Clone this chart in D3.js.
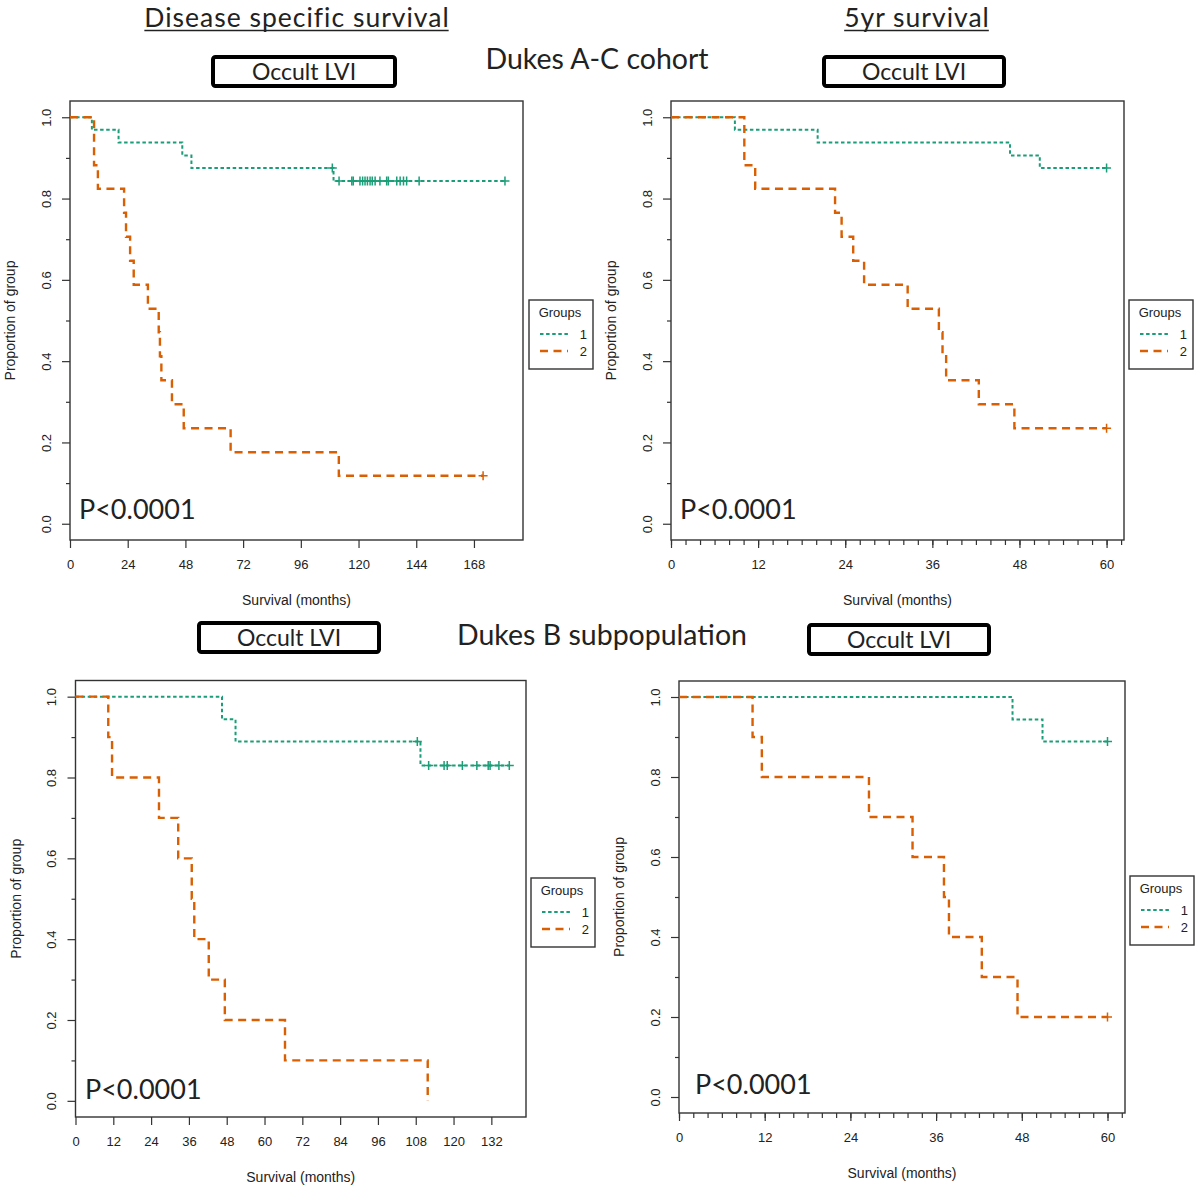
<!DOCTYPE html>
<html>
<head>
<meta charset="utf-8">
<script src="https://cdn.jsdelivr.net/npm/d3@7"></script>
<style>
  body { margin: 0; background: #fff; }
  svg text { fill: #222; }
</style>
</head>
<body>
<script>
// KM step data: event times (months) and survival after each event
var groups = ['1', '2'];
var groupColors = ['#1b9e77', '#d95f02'];

// Dukes A-C cohort, disease specific survival
var dssAC_g1_time = [9.1, 20.2, 46.7, 50.5, 109.6];
var dssAC_g1_surv = [0.969, 0.938, 0.906, 0.875, 0.843];
var dssAC_g1_cens = [109.1, 111.9, 117.2, 117.8, 120.6, 121.7, 122.7, 123.7, 124.8, 125.7,
                     126.9, 128.9, 131.7, 132.4, 135.9, 137.3, 138.7, 140.0, 145.2, 180.9];
var dssAC_g2_time = [10.0, 11.6, 22.5, 23.3, 25.0, 26.5, 32.4, 36.9, 37.4, 38.0, 42.4, 47.3, 66.8, 111.8];
var dssAC_g2_surv = [0.882, 0.824, 0.765, 0.706, 0.647, 0.588, 0.529, 0.471, 0.412, 0.353, 0.294, 0.235, 0.176, 0.118];
var dssAC_g2_cens = [171.8];

// Dukes A-C cohort, 5yr survival
var yr5AC_g1_time = [8.8, 20.2, 46.7, 50.8];
var yr5AC_g1_surv = [0.969, 0.938, 0.906, 0.875];
var yr5AC_g1_cens = [60];
var yr5AC_g2_time = [10.1, 11.6, 22.6, 23.5, 25.1, 26.6, 32.6, 36.9, 37.4, 37.9, 42.4, 47.3];
var yr5AC_g2_surv = [0.882, 0.824, 0.765, 0.706, 0.647, 0.588, 0.529, 0.471, 0.412, 0.353, 0.294, 0.235];
var yr5AC_g2_cens = [60];

// Dukes B subpopulation, disease specific survival
var dssB_g1_time = [46.5, 50.8, 109.5];
var dssB_g1_surv = [0.944, 0.889, 0.830];
var dssB_g1_cens = [108.5, 112.1, 117.0, 118.0, 122.8, 127.4, 131.0, 131.6, 134.4, 137.7];
var dssB_g2_time = [10.4, 11.6, 26.5, 32.6, 36.9, 37.7, 42.3, 47.4, 66.5, 111.8];
var dssB_g2_surv = [0.9, 0.8, 0.7, 0.6, 0.5, 0.4, 0.3, 0.2, 0.1, 0.0];
var dssB_g2_cens = [];

// Dukes B subpopulation, 5yr survival
var yr5B_g1_time = [46.7, 50.9];
var yr5B_g1_surv = [0.944, 0.889];
var yr5B_g1_cens = [60];
var yr5B_g2_time = [10.3, 11.6, 26.6, 32.7, 37.1, 37.8, 42.4, 47.4];
var yr5B_g2_surv = [0.9, 0.8, 0.7, 0.6, 0.5, 0.4, 0.3, 0.2];
var yr5B_g2_cens = [60];

// axis ticks
var yMajorTicks = [0, 0.2, 0.4, 0.6, 0.8, 1.0];
var yMinorTicks = [0.1, 0.3, 0.5, 0.7, 0.9];
var xTicksDssAC = [0, 24, 48, 72, 96, 120, 144, 168];
var xTicksDssB = [0, 12, 24, 36, 48, 60, 72, 84, 96, 108, 120, 132];
var xTicks5yr = [0, 12, 24, 36, 48, 60];
var xMinor5yr = d3.range(0, 63, 2);

var pLabel = 'P<0.0001';
var headFont = 'Lato, "Open Sans", sans-serif';
var axisFont = '"Liberation Sans", Arial, sans-serif';

var svg = d3.select('body').append('svg')
    .attr('width', 1200)
    .attr('height', 1187);

function stepAt(time, surv, t) {
  var s = 1;
  for (var i = 0; i < time.length; i++) {
    if (time[i] <= t) s = surv[i];
  }
  return s;
}

function kmSeries(time, surv, cens) {
  var pts = [[0, 1]];
  time.forEach(function(t, i) { pts.push([t, surv[i]]); });
  var last = pts[pts.length - 1];
  var end = d3.max(cens.concat([last[0]]));
  if (end > last[0]) pts.push([end, last[1]]);
  return {
    points: pts,
    censors: cens.map(function(t) { return [t, stepAt(time, surv, t)]; })
  };
}

var dashes = ['3.5,2.6', '8,5.5'];
var widths = [2, 2.4];

function panel(cfg) {
  var b = cfg.box; // [left, top, right, bottom]
  var x = d3.scaleLinear().domain([0, cfg.xMax]).range([b[0], b[2]]);
  var y = d3.scaleLinear().domain([-0.04, 1.04]).range([b[3], b[1]]);
  var g = svg.append('g');

  // axes
  g.append('g')
      .attr('transform', 'translate(0,' + b[3] + ')')
      .call(d3.axisBottom(x).tickValues(cfg.xTicks).tickSize(8).tickSizeOuter(0).tickPadding(12));
  if (cfg.xMinor) {
    g.append('g')
        .attr('transform', 'translate(0,' + b[3] + ')')
        .call(d3.axisBottom(x).tickValues(cfg.xMinor).tickSize(5).tickSizeOuter(0).tickFormat(''));
  }
  var ya = g.append('g')
      .attr('transform', 'translate(' + b[0] + ',0)')
      .call(d3.axisLeft(y).tickValues(yMajorTicks).tickSize(8).tickSizeOuter(0)
        .tickFormat(d3.format('.1f')));
  g.append('g')
      .attr('transform', 'translate(' + b[0] + ',0)')
      .call(d3.axisLeft(y).tickValues(yMinorTicks).tickSize(4).tickSizeOuter(0).tickFormat(''));

  ya.selectAll('.tick text')
      .attr('x', null).attr('dy', '0.35em')
      .attr('text-anchor', 'middle')
      .attr('transform', 'translate(-24,0) rotate(-90)');

  g.selectAll('.domain').remove();
  g.selectAll('.tick line').attr('stroke', '#333').attr('stroke-width', 1.2);
  g.selectAll('.tick text')
      .style('font-family', axisFont).style('font-size', '13px').attr('fill', '#222');

  g.append('rect')
      .attr('x', b[0]).attr('y', b[1])
      .attr('width', b[2] - b[0]).attr('height', b[3] - b[1])
      .attr('fill', 'none').attr('stroke', '#333').attr('stroke-width', 1.4);

  // axis titles
  g.append('text')
      .attr('x', (b[0] + b[2]) / 2).attr('y', b[3] + 65)
      .attr('text-anchor', 'middle')
      .style('font-family', axisFont).style('font-size', '14px')
      .text('Survival (months)');
  g.append('text')
      .attr('transform', 'translate(' + (b[0] - 55) + ',' + ((y(0) + y(1)) / 2) + ') rotate(-90)')
      .attr('text-anchor', 'middle')
      .style('font-family', axisFont).style('font-size', '14px')
      .text('Proportion of group');

  // curves
  var line = d3.line()
      .x(function(d) { return x(d[0]); })
      .y(function(d) { return y(d[1]); })
      .curve(d3.curveStepAfter);

  cfg.series.forEach(function(s, i) {
    g.append('path')
        .datum(s.points)
        .attr('d', line)
        .attr('fill', 'none')
        .attr('stroke', groupColors[i])
        .attr('stroke-width', widths[i])
        .attr('stroke-dasharray', dashes[i]);

    g.append('g').selectAll('path')
        .data(s.censors)
        .enter().append('path')
          .attr('d', function(d) {
            var cx = x(d[0]), cy = y(d[1]);
            return 'M' + (cx - 4.5) + ',' + cy + 'H' + (cx + 4.5) +
                   'M' + cx + ',' + (cy - 4.5) + 'V' + (cy + 4.5);
          })
          .attr('stroke', groupColors[i])
          .attr('stroke-width', 1.5);
  });

  // p value
  g.append('text')
      .attr('x', cfg.p[0]).attr('y', cfg.p[1])
      .style('font-family', headFont).style('font-size', '27px')
      .text(pLabel);

  // legend
  var L = cfg.legend;
  var lg = g.append('g').attr('transform', 'translate(' + L[0] + ',' + L[1] + ')');
  lg.append('rect')
      .attr('width', 64).attr('height', 69)
      .attr('fill', '#fff').attr('stroke', '#333').attr('stroke-width', 1.4);
  lg.append('text')
      .attr('x', 31).attr('y', 17)
      .attr('text-anchor', 'middle')
      .style('font-family', axisFont).style('font-size', '13px')
      .text('Groups');
  groups.forEach(function(name, i) {
    var ly = 34 + i * 17;
    lg.append('line')
        .attr('x1', 11).attr('x2', 39)
        .attr('y1', ly).attr('y2', ly)
        .attr('stroke', groupColors[i])
        .attr('stroke-width', widths[i])
        .attr('stroke-dasharray', dashes[i]);
    lg.append('text')
        .attr('x', 58).attr('y', ly + 5)
        .attr('text-anchor', 'end')
        .style('font-family', axisFont).style('font-size', '13px')
        .text(name);
  });

  // framed "Occult LVI" label
  var T = cfg.tag;
  svg.append('rect')
      .attr('x', T[0]).attr('y', T[1])
      .attr('width', T[2] - T[0]).attr('height', T[3] - T[1])
      .attr('rx', 2.5)
      .attr('fill', 'none').attr('stroke', '#000').attr('stroke-width', 4);
  svg.append('text')
      .attr('x', (T[0] + T[2]) / 2).attr('y', T[3] - 6.5)
      .attr('text-anchor', 'middle')
      .style('font-family', headFont).style('font-size', '23px')
      .text('Occult LVI');
}

panel({
  box: [70, 101, 523, 540], xMax: 188.4,
  xTicks: xTicksDssAC, xMinor: null,
  series: [kmSeries(dssAC_g1_time, dssAC_g1_surv, dssAC_g1_cens),
           kmSeries(dssAC_g2_time, dssAC_g2_surv, dssAC_g2_cens)],
  p: [79, 519], legend: [529, 300], tag: [213, 57, 395, 86]
});
panel({
  box: [671, 101, 1124, 540], xMax: 62.4,
  xTicks: xTicks5yr, xMinor: xMinor5yr,
  series: [kmSeries(yr5AC_g1_time, yr5AC_g1_surv, yr5AC_g1_cens),
           kmSeries(yr5AC_g2_time, yr5AC_g2_surv, yr5AC_g2_cens)],
  p: [680, 519], legend: [1129, 300], tag: [824, 57, 1004, 86]
});
panel({
  box: [75.5, 680.5, 526, 1117], xMax: 143,
  xTicks: xTicksDssB, xMinor: null,
  series: [kmSeries(dssB_g1_time, dssB_g1_surv, dssB_g1_cens),
           kmSeries(dssB_g2_time, dssB_g2_surv, dssB_g2_cens)],
  p: [85, 1099], legend: [531, 878], tag: [199, 623, 379, 652]
});
panel({
  box: [679, 681, 1125, 1113], xMax: 62.45,
  xTicks: xTicks5yr, xMinor: xMinor5yr,
  series: [kmSeries(yr5B_g1_time, yr5B_g1_surv, yr5B_g1_cens),
           kmSeries(yr5B_g2_time, yr5B_g2_surv, yr5B_g2_cens)],
  p: [695, 1094], legend: [1130, 876], tag: [809, 625, 989, 654]
});

// headings
function heading(txt, cx, by, size, spacing, underline) {
  var t = svg.append('text')
      .attr('x', cx).attr('y', by)
      .attr('text-anchor', 'middle')
      .style('font-family', headFont).style('font-size', size + 'px')
      .style('letter-spacing', spacing + 'px')
      .text(txt);
  if (underline) {
    var bb = t.node().getBBox();
    svg.append('line')
        .attr('x1', bb.x).attr('x2', bb.x + bb.width - spacing)
        .attr('y1', by + 4).attr('y2', by + 4)
        .attr('stroke', '#222').attr('stroke-width', 1.6);
  }
}
heading('Disease specific survival', 297, 26.5, 26.5, 1, true);
heading('5yr survival', 917, 26.5, 26.5, 1, true);
heading('Dukes A-C cohort', 597, 69, 28.5, 0, false);
heading('Dukes B subpopulation', 602, 645, 28.5, 0, false);
</script>
</body>
</html>
